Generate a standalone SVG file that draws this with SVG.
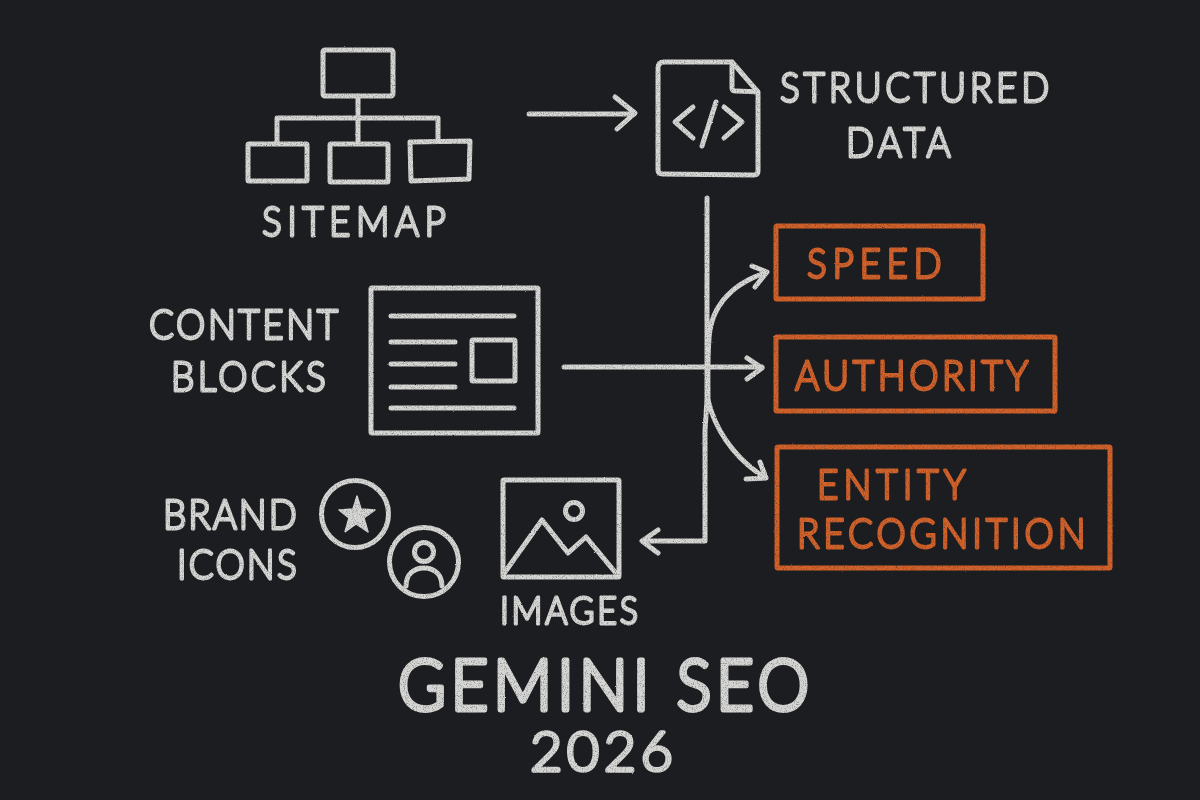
<svg xmlns="http://www.w3.org/2000/svg" width="1200" height="800" viewBox="0 0 1200 800">
<style>
.w{fill:none;stroke:#d6d6d4;stroke-width:5;stroke-linecap:round;stroke-linejoin:round}
.o{fill:none;stroke:#d2622c;stroke-width:5;stroke-linejoin:round}
text{font-family:"Lato","Open Sans",sans-serif;font-weight:300;font-size:42px;stroke-width:2.8px;stroke-linejoin:round;stroke-linecap:round}
.tw{fill:#d6d6d4;stroke:#d6d6d4}
.to{fill:#d2622c;stroke:#d2622c}
</style>
<defs>
<filter id="chalk" x="-5%" y="-5%" width="110%" height="110%">
<feTurbulence type="fractalNoise" baseFrequency="0.9" numOctaves="2" seed="4" result="n"/>
<feDisplacementMap in="SourceGraphic" in2="n" scale="1.6" xChannelSelector="R" yChannelSelector="G" result="d"/>
<feColorMatrix in="n" type="matrix" values="0 0 0 0 0 0 0 0 0 0 0 0 0 0 0 0 0 0 -1.3 1.65" result="g"/>
<feComposite in="d" in2="g" operator="in"/>
</filter>
</defs>
<rect width="1200" height="800" fill="#1c1d20"/>
<g filter="url(#chalk)">
<g id="connectors" class="w">
<path d="M529 114H634"/>
<path d="M615 97L635 113L617 129"/>
<path d="M707 198V400L705 430V541H643"/>
<path d="M658 530L642 541L658 553"/>
<path d="M564 367H762"/>
<path d="M747 358L762 368L747 379"/>
<path d="M708 400C708 375 707 350 710 330C714 305 732 284 765 273"/>
<path d="M752 266L767 272L755 287"/>
<path d="M708 400C714 425 730 455 764 477"/>
<path d="M760 462L766 478L746 479"/>
</g>
<g id="sitemap">
<g class="w">
<rect x="323" y="50" width="70" height="46" rx="2"/>
<path d="M358 96V143M277 143V118H438V141"/>
<rect x="248" y="144" width="59" height="37" rx="1"/>
<rect x="330" y="144" width="58" height="38" rx="1"/>
<path d="M410 142L470 141L469 179L411 181Z"/>
</g>
<text class="tw" transform="translate(262 236) scale(.88 1)" textLength="209" lengthAdjust="spacing">SITEMAP</text>
</g>
<g id="structured-data">
<g class="w">
<path d="M732 62H664Q658 62 658 68V170Q658 174 663 174L754 175Q758 175 758 171V92L732 62V88Q732 91 736 91L758 92"/>
<path d="M693 107L675 122L693 138M716 102L702 146M724 107L742 122L724 138"/>
</g>
<text class="tw" transform="translate(780 102) scale(.88 1)" textLength="306" lengthAdjust="spacing">STRUCTURED</text>
<text class="tw" transform="translate(846 157) scale(.88 1)" textLength="119" lengthAdjust="spacing">DATA</text>
</g>
<g id="content-blocks">
<g class="w">
<rect x="371" y="288" width="167" height="145" rx="1"/>
<path d="M391 316H514M391 342H455M391 364H455M391 387H455M391 408H514"/>
<rect x="472" y="340" width="43" height="41" rx="1"/>
</g>
<text class="tw" transform="translate(149 339) scale(.88 1)" textLength="215" lengthAdjust="spacing">CONTENT</text>
<text class="tw" transform="translate(171 391) scale(.88 1)" textLength="176" lengthAdjust="spacing">BLOCKS</text>
</g>
<g id="brand-icons">
<g class="w">
<circle cx="355" cy="514" r="33.5"/>
<circle cx="424" cy="562" r="34.5"/>
<circle cx="424" cy="552" r="9.5"/>
<path d="M406 586C406 574 414 568 424 568C434 568 442 574 442 586"/>
</g>
<path d="M357 496L361 509L375 510L364 518L368 532L356 524L345 532L349 518L339 510L353 509Z" fill="#d6d6d4" stroke="#d6d6d4" stroke-width="1.5" stroke-linejoin="round"/>
<text class="tw" transform="translate(163 529) scale(.88 1)" textLength="152" lengthAdjust="spacing">BRAND</text>
<text class="tw" transform="translate(177 579) scale(.88 1)" textLength="136" lengthAdjust="spacing">ICONS</text>
</g>
<g id="images">
<g class="w">
<rect x="503" y="480" width="116" height="97" rx="1"/>
<circle cx="574" cy="511" r="8.5"/>
<path d="M505 572L542 520L568 553L586 537L615 572"/>
</g>
<text class="tw" transform="translate(500 624) scale(.92 1)" textLength="150" style="font-size:37px" lengthAdjust="spacing">IMAGES</text>
</g>
<g id="speed">
<rect class="o" x="776" y="226" width="207" height="73" rx="1"/>
<text class="to" transform="translate(807 278) scale(.88 1)" textLength="153" lengthAdjust="spacing">SPEED</text>
</g>
<g id="authority">
<rect class="o" x="776" y="337" width="279" height="74" rx="1"/>
<text class="to" transform="translate(795 390) scale(.88 1)" textLength="265" lengthAdjust="spacing">AUTHORITY</text>
</g>
<g id="entity-recognition">
<rect class="o" x="777" y="447" width="333" height="121" rx="1"/>
<text class="to" transform="translate(817 499) scale(.88 1)" textLength="169" lengthAdjust="spacing">ENTITY</text>
<text class="to" transform="translate(797 548) scale(.88 1)" textLength="328" lengthAdjust="spacing">RECOGNITION</text>
</g>
<g id="title">
<text class="tw" transform="translate(398 710) scale(.92 1)" textLength="447" lengthAdjust="spacing" style="font-size:71px;stroke-width:4.8px">GEMINI SEO</text>
<text class="tw" x="530" y="771" textLength="143" lengthAdjust="spacing" style="font-size:56px;stroke-width:3.6px">2026</text>
</g>
</g>
</svg>
